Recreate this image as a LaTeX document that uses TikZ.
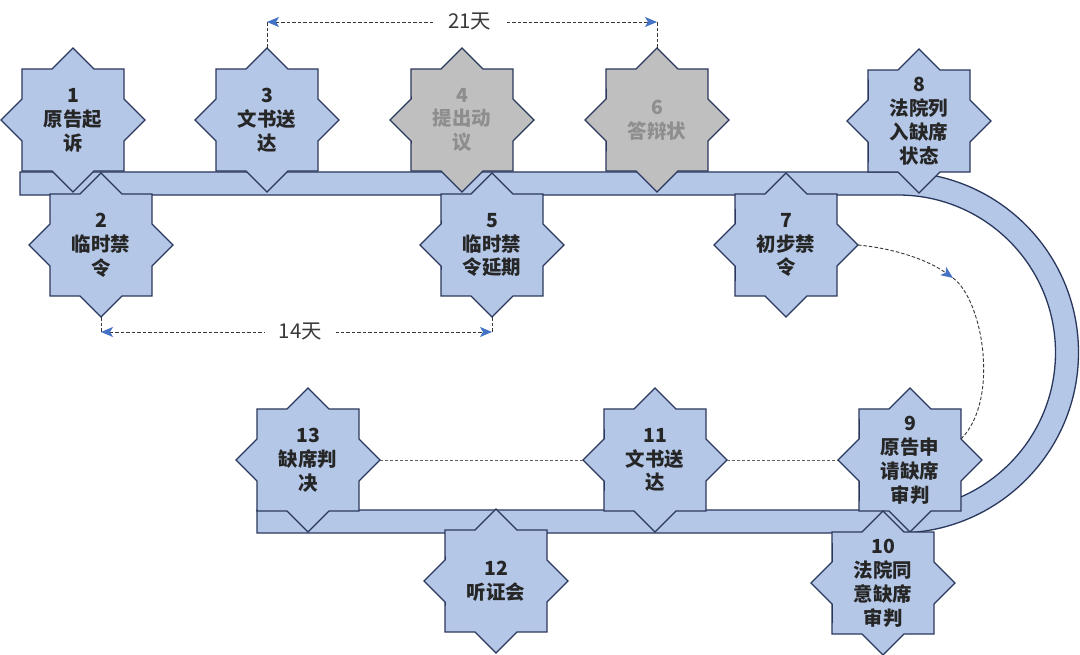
\documentclass[tikz,border=0pt]{standalone}
\usepackage{fontspec}
\setmainfont{Noto Sans CJK SC}
\usetikzlibrary{calc,arrows.meta}
\definecolor{starfill}{HTML}{B4C7E7}
\definecolor{starline}{HTML}{2A375C}
\definecolor{grayfill}{HTML}{BFBFBF}
\definecolor{graytext}{HTML}{8E8E8E}
\definecolor{dimline}{HTML}{383838}
\definecolor{arrowblue}{HTML}{4472C4}
\tikzset{
  starshape/.style={draw=starline, line width=1.3bp, line join=miter},
  startext/.style={circle, minimum size=144bp, inner sep=0pt, outer sep=0pt, align=center,
     font=\fontsize{19.5}{24}\selectfont\bfseries},
  band/.style={draw=starline, line width=1.3bp, fill=starfill, line join=miter},
  dim/.style={draw=dimline, line width=0.9bp, dash pattern=on 3.5bp off 2bp},
  dimtip/.style={{Stealth[length=12bp,width=10bp,inset=3bp,color=arrowblue]}-{Stealth[length=12bp,width=10bp,inset=3bp,color=arrowblue]}},
  endtip/.style={-{Stealth[length=12bp,width=10bp,inset=3bp,color=arrowblue]}},
  dimlabel/.style={fill=white, inner xsep=14bp, inner ysep=2bp, text=dimline, font=\fontsize{20.5}{24}\selectfont},
  link/.style={draw=dimline!80, line width=0.6bp, dash pattern=on 3bp off 2bp}
}
% #1 name, #2 centre, #3 fill, #4 text colour, #5 text
\newcommand\starnode[5]{%
  \coordinate (#1c) at (#2);
  \draw[starshape, fill=#3] ($(#1c)+(0:72)$)
    \foreach \a in {0,45,...,315}{ -- ($(#1c)+(\a+22.5:55.1)$) -- ($(#1c)+(\a+45:72)$)} -- cycle;
  \node[startext, text=#4] (#1) at (#1c) {#5};
}
\begin{document}
\begin{tikzpicture}[x=1bp,y=-1bp]
\useasboundingbox[fill=white] (0,0) rectangle (1080,655);
% track
\draw[band] (20,172) -- (898,172) arc[start angle=-90,end angle=90,radius=180.5]
  -- (257,533) -- (257,510) -- (898,510) arc[start angle=90,end angle=-90,radius=157.5]
  -- (20,195) -- cycle;
% upper row
\starnode{s1}{73,120}{starfill}{black!85}{1\\原告起\\诉}
\starnode{s3}{267,120}{starfill}{black!85}{3\\文书送\\达}
\starnode{s4}{462,120}{grayfill}{graytext}{4\\提出动\\议}
\starnode{s6}{657,120}{grayfill}{graytext}{6\\答辩状}
\starnode{s8}{919,121}{starfill}{black!85}{8\\法院列\\入缺席\\状态}
\starnode{s2}{101,245}{starfill}{black!85}{2\\临时禁\\令}
\starnode{s5}{492,245}{starfill}{black!85}{5\\临时禁\\令延期}
\starnode{s7}{786,245}{starfill}{black!85}{7\\初步禁\\令}
% lower row
\starnode{s13}{308,460}{starfill}{black!85}{13\\缺席判\\决}
\starnode{s11}{655,460}{starfill}{black!85}{11\\文书送\\达}
\starnode{s9}{910,460}{starfill}{black!85}{9\\原告申\\请缺席\\审判}
\starnode{s12}{496,581}{starfill}{black!85}{12\\听证会}
\starnode{s10}{883,583}{starfill}{black!85}{10\\法院同\\意缺席\\审判}
% 21 days
\coordinate (t3) at (267,22);
\coordinate (t6) at (657,22);
\draw[dim] (s3.north) -- (t3);
\draw[dim] (s6.north) -- (t6);
\draw[dim, dimtip] (t3) -- node[dimlabel, pos=0.52] {21天} (t6);
% 14 days
\coordinate (b2) at (101,332);
\coordinate (b5) at (492,332);
\draw[dim] (s2.south) -- (b2);
\draw[dim] (s5.south) -- (b5);
\draw[dim, dimtip] (b2) -- node[dimlabel, pos=0.51] {14天} (b5);
% 7 -> 9
\coordinate (m79) at (953,278);
\coordinate (s9in) at ($(s9c)+(51,-21)$);
\draw[dim, endtip] (s7.east) .. controls (890,248) and (925,258) .. (m79);
\draw[dim] (m79) .. controls (983,300) and (1000,400) .. (s9in);
% lower links
\draw[link] (s13.east) -- (s11.west);
\draw[link] (s11.east) -- (s9.west);
\end{tikzpicture}
\end{document}
